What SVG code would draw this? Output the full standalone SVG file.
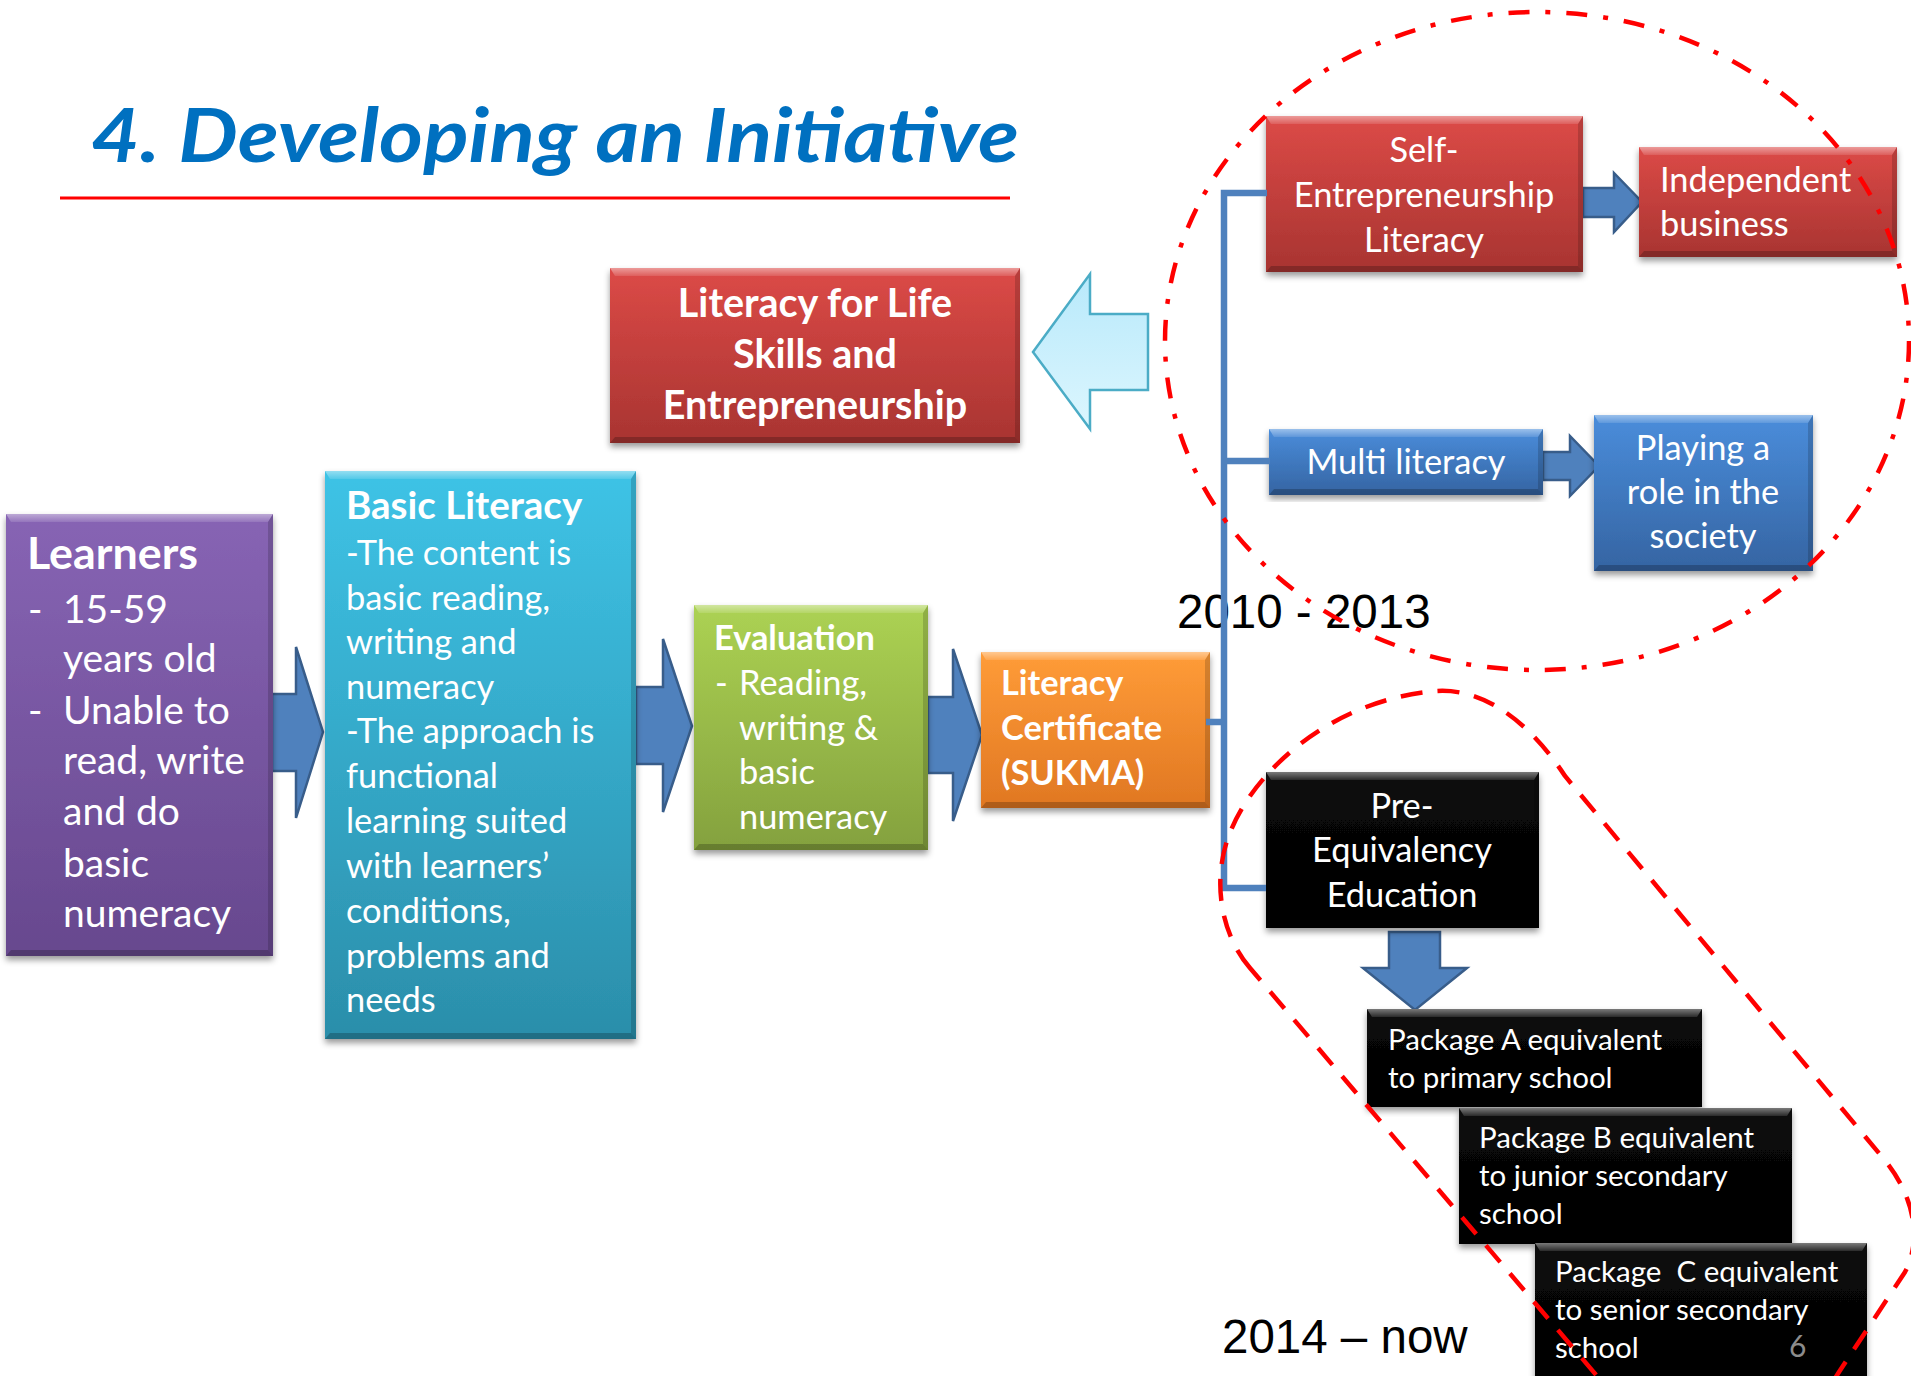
<svg xmlns="http://www.w3.org/2000/svg" width="1911" height="1376" viewBox="0 0 1911 1376">
  <style>
    text { font-family: Lato, "Open Sans", "DejaVu Sans", sans-serif; }
    .w { fill: #ffffff; }
    .bd { font-weight: 700; }
    .s45 { font-size: 44.8px; }
    .s40 { font-size: 39.5px; }
    .s39 { font-size: 39px; }
    .s38 { font-size: 38.5px; }
    .s34 { font-size: 34.4px; }
    .s29 { font-size: 29.5px; }
    .mid { text-anchor: middle; }
    .yr { font-family: "Liberation Sans", Arial, sans-serif; font-size: 47.5px; fill: #000; }
    .top { fill: url(#bevTop); }
    .rgt { fill: #000; fill-opacity: 0.16; }
    .bot { fill: #000; fill-opacity: 0.22; }
    .arrow { fill: #4f81bd; stroke: #385d8a; stroke-width: 2.5; stroke-linejoin: miter; }
    .bracket { fill: none; stroke: #4f81bd; stroke-width: 6.5; }
  </style>
  <defs>
    <linearGradient id="gRed" x1="0" y1="0" x2="0" y2="1">
      <stop offset="0" stop-color="#dc4a47"/>
      <stop offset="1" stop-color="#a83431"/>
    </linearGradient>
    <linearGradient id="gPurple" x1="0" y1="0" x2="0" y2="1">
      <stop offset="0" stop-color="#8764b4"/>
      <stop offset="1" stop-color="#67488e"/>
    </linearGradient>
    <linearGradient id="gCyan" x1="0" y1="0" x2="0" y2="1">
      <stop offset="0" stop-color="#3ec3e6"/>
      <stop offset="1" stop-color="#2b8eaa"/>
    </linearGradient>
    <linearGradient id="gGreen" x1="0" y1="0" x2="0" y2="1">
      <stop offset="0" stop-color="#acd253"/>
      <stop offset="1" stop-color="#84a13e"/>
    </linearGradient>
    <linearGradient id="gOrange" x1="0" y1="0" x2="0" y2="1">
      <stop offset="0" stop-color="#ff9c38"/>
      <stop offset="1" stop-color="#e07722"/>
    </linearGradient>
    <linearGradient id="gBlue" x1="0" y1="0" x2="0" y2="1">
      <stop offset="0" stop-color="#4a8ddb"/>
      <stop offset="1" stop-color="#3564a2"/>
    </linearGradient>
    <linearGradient id="gBlack" x1="0" y1="0" x2="0" y2="1">
      <stop offset="0" stop-color="#0a0a0a"/>
      <stop offset="1" stop-color="#000000"/>
    </linearGradient>
    <linearGradient id="gSky" x1="0" y1="0" x2="0" y2="1">
      <stop offset="0" stop-color="#b8e9fb"/>
      <stop offset="1" stop-color="#dcf6fe"/>
    </linearGradient>
    <linearGradient id="bevTop" x1="0" y1="0" x2="0" y2="1">
      <stop offset="0" stop-color="#ffffff" stop-opacity="0.45"/>
      <stop offset="1" stop-color="#ffffff" stop-opacity="0.12"/>
    </linearGradient>
    <filter id="shadow" x="-5%" y="-5%" width="110%" height="115%">
      <feDropShadow dx="0" dy="4" stdDeviation="3" flood-color="#000" flood-opacity="0.4"/>
    </filter>
  </defs>

  <!-- heading -->
  <g id="title">
    <text x="91" y="162" font-size="74" font-weight="700" font-style="italic" fill="#0070c0" textLength="928" lengthAdjust="spacingAndGlyphs">4. Developing an Initiative</text>
    <line x1="60" y1="198" x2="1010" y2="198" stroke="#ff0000" stroke-width="3"/>
  </g>

  <!-- year labels sit underneath the bracket line -->
  <g id="labels">
    <text class="yr" x="1177" y="627.5">2010 - 2013</text>
    <text class="yr" x="1222" y="1352.5">2014 – now</text>
  </g>

  <!-- flow arrows between the steps -->
  <g id="connectors">
    <polygon class="arrow" points="272,694 296,694 296,647 323,732 296,818 296,771 272,771"/>
    <polygon class="arrow" points="636,687 663,687 663,639 692,726 663,812 663,764 636,764"/>
    <polygon class="arrow" points="928,697 953,697 953,649 982,735 953,821 953,773 928,773"/>
    <polygon class="arrow" points="1583,188 1614,188 1614,173 1642,202 1614,232 1614,217 1583,217"/>
    <polygon class="arrow" points="1543,452 1570,452 1570,436 1599,466 1570,496 1570,480 1543,480"/>
    <polygon class="arrow" points="1389,932 1440,932 1440,968 1467,968 1415,1010 1363,968 1389,968"/>
    <polygon points="1033,352 1090,274 1090,314 1148,314 1148,390 1090,390 1090,429" fill="url(#gSky)" stroke="#4bacc6" stroke-width="2.5"/>
  </g>

  <g id="learners">
    <rect x="6" y="514" width="267" height="442" fill="url(#gPurple)" filter="url(#shadow)"/>
    <polygon class="top" points="6,514 273,514 268,522 11,522"/>
    <polygon class="rgt" points="273,514 273,956 268,950 268,522"/>
    <polygon class="bot" points="6,956 273,956 268,950 11,950"/>
    <text class="w bd s45" x="27" y="569">Learners</text>
    <g class="w s39">
      <text x="28" y="623">-</text><text x="63" y="623">15-59</text>
      <text x="63" y="672">years old</text>
      <text x="28" y="724">-</text><text x="63" y="724">Unable to</text>
      <text x="63" y="774">read, write</text>
      <text x="63" y="825">and do</text>
      <text x="63" y="877">basic</text>
      <text x="63" y="927">numeracy</text>
    </g>
  </g>

  <g id="basic-literacy">
    <rect x="325" y="471" width="311" height="568" fill="url(#gCyan)" filter="url(#shadow)"/>
    <polygon class="top" points="325,471 636,471 631,479 330,479"/>
    <polygon class="rgt" points="636,471 636,1039 631,1033 631,479"/>
    <polygon class="bot" points="325,1039 636,1039 631,1033 330,1033"/>
    <text class="w bd s38" x="346" y="519">Basic Literacy</text>
    <g class="w s34">
      <text x="346" y="565">-The content is</text>
      <text x="346" y="609.5">basic reading,</text>
      <text x="346" y="654">writing and</text>
      <text x="346" y="698.5">numeracy</text>
      <text x="346" y="743">-The approach is</text>
      <text x="346" y="788">functional</text>
      <text x="346" y="833">learning suited</text>
      <text x="346" y="878">with learners’</text>
      <text x="346" y="923">conditions,</text>
      <text x="346" y="967.5">problems and</text>
      <text x="346" y="1012">needs</text>
    </g>
  </g>

  <g id="evaluation">
    <rect x="694" y="605" width="234" height="245" fill="url(#gGreen)" filter="url(#shadow)"/>
    <polygon class="top" points="694,605 928,605 923,613 699,613"/>
    <polygon class="rgt" points="928,605 928,850 923,844 923,613"/>
    <polygon class="bot" points="694,850 928,850 923,844 699,844"/>
    <text class="w bd s34" x="714" y="650">Evaluation</text>
    <g class="w s34">
      <text x="715" y="695">-</text><text x="739" y="695">Reading,</text>
      <text x="739" y="739.5">writing &amp;</text>
      <text x="739" y="784">basic</text>
      <text x="739" y="829">numeracy</text>
    </g>
  </g>

  <g id="literacy-certificate">
    <rect x="981" y="652" width="229" height="156" fill="url(#gOrange)" filter="url(#shadow)"/>
    <polygon class="top" points="981,652 1210,652 1205,660 986,660"/>
    <polygon class="rgt" points="1210,652 1210,808 1205,802 1205,660"/>
    <polygon class="bot" points="981,808 1210,808 1205,802 986,802"/>
    <g class="w bd s34">
      <text x="1001" y="695">Literacy</text>
      <text x="1001" y="740">Certificate</text>
      <text x="1001" y="785">(SUKMA)</text>
    </g>
  </g>

  <g id="life-skills">
    <rect x="610" y="268" width="410" height="175" fill="url(#gRed)" filter="url(#shadow)"/>
    <polygon class="top" points="610,268 1020,268 1015,276 615,276"/>
    <polygon class="rgt" points="1020,268 1020,443 1015,437 1015,276"/>
    <polygon class="bot" points="610,443 1020,443 1015,437 615,437"/>
    <g class="w bd s40 mid">
      <text x="815" y="317">Literacy for Life</text>
      <text x="815" y="368">Skills and</text>
      <text x="815" y="419">Entrepreneurship</text>
    </g>
  </g>

  <g id="self-entrepreneurship">
    <rect x="1266" y="116" width="317" height="156" fill="url(#gRed)" filter="url(#shadow)"/>
    <polygon class="top" points="1266,116 1583,116 1578,124 1271,124"/>
    <polygon class="rgt" points="1583,116 1583,272 1578,266 1578,124"/>
    <polygon class="bot" points="1266,272 1583,272 1578,266 1271,266"/>
    <g class="w s34 mid">
      <text x="1424" y="162">Self-</text>
      <text x="1424" y="207">Entrepreneurship</text>
      <text x="1424" y="252">Literacy</text>
    </g>
  </g>

  <g id="independent-business">
    <rect x="1639" y="147" width="258" height="110" fill="url(#gRed)" filter="url(#shadow)"/>
    <polygon class="top" points="1639,147 1897,147 1892,155 1644,155"/>
    <polygon class="rgt" points="1897,147 1897,257 1892,251 1892,155"/>
    <polygon class="bot" points="1639,257 1897,257 1892,251 1644,251"/>
    <g class="w s34">
      <text x="1660" y="192">Independent</text>
      <text x="1660" y="236">business</text>
    </g>
  </g>

  <g id="multi-literacy">
    <rect x="1269" y="429" width="274" height="66" fill="url(#gBlue)" filter="url(#shadow)"/>
    <polygon class="top" points="1269,429 1543,429 1538,437 1274,437"/>
    <polygon class="rgt" points="1543,429 1543,495 1538,489 1538,437"/>
    <polygon class="bot" points="1269,495 1543,495 1538,489 1274,489"/>
    <text class="w s34 mid" x="1406" y="474">Multi literacy</text>
  </g>

  <g id="society-role">
    <rect x="1594" y="415" width="219" height="156" fill="url(#gBlue)" filter="url(#shadow)"/>
    <polygon class="top" points="1594,415 1813,415 1808,423 1599,423"/>
    <polygon class="rgt" points="1813,415 1813,571 1808,565 1808,423"/>
    <polygon class="bot" points="1594,571 1813,571 1808,565 1599,565"/>
    <g class="w s34 mid">
      <text x="1703" y="460">Playing a</text>
      <text x="1703" y="504">role in the</text>
      <text x="1703" y="548">society</text>
    </g>
  </g>

  <g id="pre-equivalency">
    <rect x="1266" y="772" width="273" height="156" fill="url(#gBlack)" filter="url(#shadow)"/>
    <polygon class="top" points="1266,772 1539,772 1534,780 1271,780"/>
    <polygon class="rgt" points="1539,772 1539,928 1534,922 1534,780"/>
    <g class="w s34 mid">
      <text x="1402" y="818">Pre-</text>
      <text x="1402" y="862">Equivalency</text>
      <text x="1402" y="907">Education</text>
    </g>
  </g>

  <g id="package-a">
    <rect x="1367" y="1009" width="335" height="98" fill="url(#gBlack)" filter="url(#shadow)"/>
    <polygon class="top" points="1367,1009 1702,1009 1697,1017 1372,1017"/>
    <g class="w s29">
      <text x="1388" y="1050">Package A equivalent</text>
      <text x="1388" y="1088">to primary school</text>
    </g>
  </g>

  <g id="package-b">
    <rect x="1459" y="1108" width="333" height="136" fill="url(#gBlack)" filter="url(#shadow)"/>
    <polygon class="top" points="1459,1108 1792,1108 1787,1116 1464,1116"/>
    <g class="w s29">
      <text x="1479" y="1147.5">Package B equivalent</text>
      <text x="1479" y="1186">to junior secondary</text>
      <text x="1479" y="1224">school</text>
    </g>
  </g>

  <g id="package-c">
    <rect x="1535" y="1243" width="332" height="150" fill="url(#gBlack)" filter="url(#shadow)"/>
    <polygon class="top" points="1535,1243 1867,1243 1862,1251 1540,1251"/>
    <g class="w s29">
      <text x="1555" y="1281.5" style="white-space:pre">Package  C equivalent</text>
      <text x="1555" y="1320">to senior secondary</text>
      <text x="1555" y="1357.5">school</text>
    </g>
    <text x="1789" y="1357" font-size="30" fill="#8c8c8c">6</text>
  </g>

  <!-- bracket joining the certificate to the three follow-up tracks -->
  <g id="bracket">
    <polyline class="bracket" points="1267,193 1224,193 1224,888 1266,888"/>
    <line class="bracket" x1="1224" y1="461" x2="1270" y2="461"/>
    <line class="bracket" x1="1206" y1="722" x2="1224" y2="722"/>
  </g>

  <!-- period outlines -->
  <g id="periods" fill="none" stroke="#ff0000" stroke-width="4.5">
    <ellipse cx="1537" cy="341" rx="372" ry="329" stroke-dasharray="21 16 5 16"/>
    <path d="M 1250 968 C 1226 940 1216 900 1222 862 C 1232 790 1320 700 1437 691 C 1490 688 1535 730 1565 776 L 1883 1158 C 1915 1196 1922 1240 1905 1272 L 1839 1372 L 1790 1450 L 1660 1450 Z" stroke-dasharray="22 15"/>
  </g>
</svg>
